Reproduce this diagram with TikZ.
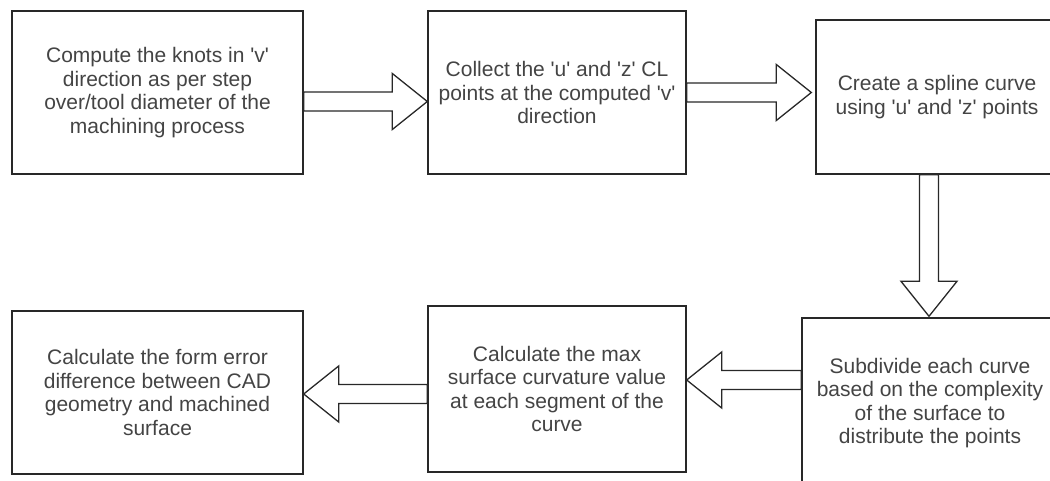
\documentclass[tikz,border=0pt]{standalone}
\usepackage{fontspec}
\setmainfont{Liberation Sans}
\usetikzlibrary{calc}

\definecolor{edge}{RGB}{40,40,40}
\definecolor{ink}{RGB}{68,68,68}
\newcommand\sq{\textquotesingle}

\tikzset{
  stepbox/.style={draw=edge, line width=1.4pt, fill=white, inner sep=0pt,
    align=center, text=ink, font=\fontsize{21}{23.5}\selectfont},
  barrow/.style={draw=edge, line width=1.3pt, fill=white, line join=miter}
}

% hollow block arrow from #1 (tail) to #2 (tip)
\newcommand\blockarrow[2]{%
  \coordinate (hb) at ($(#2)!35pt!(#1)$);
  \draw[barrow] ($(#1)!9.5pt!90:(#2)$) -- ($(hb)!9.5pt!90:(#2)$)
    -- ($(hb)!28pt!90:(#2)$) -- (#2) -- ($(hb)!28pt!-90:(#2)$)
    -- ($(hb)!9.5pt!-90:(#2)$) -- ($(#1)!9.5pt!-90:(#2)$) -- cycle;
}

\begin{document}
\begin{tikzpicture}[x=1pt,y=1pt]
\useasboundingbox (0,0) rectangle (1050,-481);
\fill[white] (0,0) rectangle (1050,-481);
\clip (0,0) rectangle (1050,-481);

\node[stepbox, minimum width=291, minimum height=163] (b1) at (157.5,-92.5)
  {Compute the knots in \sq v\sq\\direction as per step\\over/tool diameter of the\\machining process};
\node[stepbox, minimum width=258, minimum height=163] (b2) at (557,-92.5)
  {Collect the \sq u\sq\ and \sq z\sq\ CL\\points at the computed \sq v\sq\\direction};
\node[stepbox, minimum width=242, minimum height=154] (b3) at (937,-97)
  {Create a spline curve\\using \sq u\sq\ and \sq z\sq\ points};
\node[stepbox, minimum width=256, minimum height=170] (b4) at (930,-403)
  {Subdivide each curve\\based on the complexity\\of the surface to\\distribute the points};
\node[stepbox, minimum width=258, minimum height=166] (b5) at (557,-389)
  {Calculate the max\\surface curvature value\\at each segment of the\\curve};
\node[stepbox, minimum width=291, minimum height=163] (b6) at (157.5,-392.5)
  {Calculate the form error\\difference between CAD\\geometry and machined\\surface};

% connector end points
\coordinate (t1) at ([yshift=-9]b1.east);
\coordinate (h1) at (b2.west |- t1);
\coordinate (t2) at (b2.east);
\coordinate (h2) at ([xshift=-4]b3.west |- t2);
\coordinate (t3) at ([xshift=-8]b3.south);
\coordinate (h3) at ([yshift=1]t3 |- b4.north);
\coordinate (t4) at ([yshift=23]b4.west);
\coordinate (h4) at (b5.east |- t4);
\coordinate (t5) at ([yshift=-5]b5.west);
\coordinate (h5) at (b6.east |- t5);

\blockarrow{t1}{h1}
\blockarrow{t2}{h2}
\blockarrow{t3}{h3}
\blockarrow{t4}{h4}
\blockarrow{t5}{h5}
\end{tikzpicture}
\end{document}
